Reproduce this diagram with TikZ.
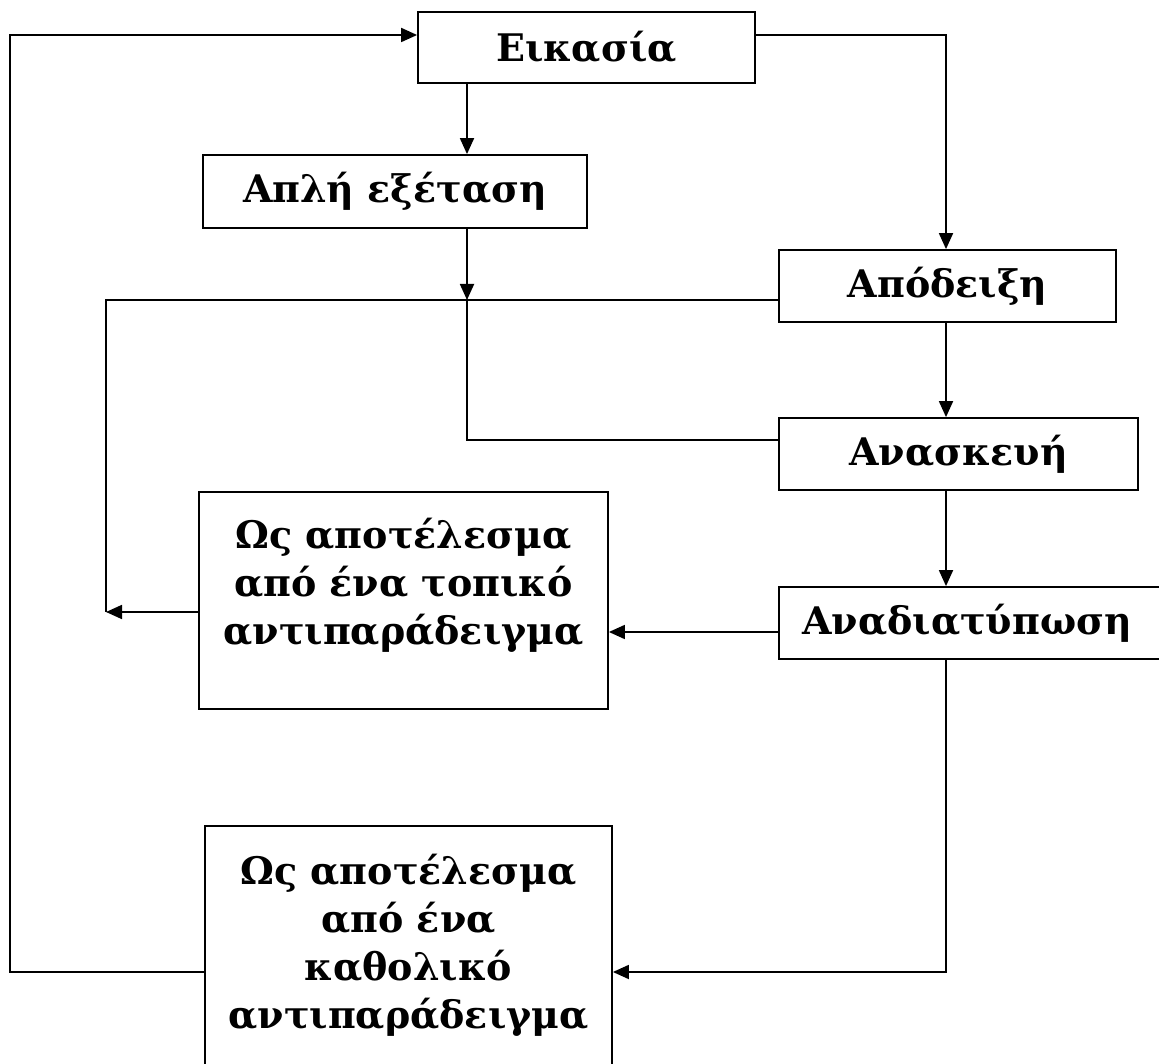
\documentclass[tikz,border=0pt]{standalone}
\usepackage{fontspec}
\setmainfont{DejaVu Serif}
\usetikzlibrary{arrows.meta}
\begin{document}
\begin{tikzpicture}[x=1pt,y=-1pt,
  line width=1.8pt,
  stage/.style={draw, rectangle, inner sep=0pt, font=\bfseries\fontsize{38}{48}\selectfont},
  caption/.style={align=center, inner sep=0pt, font=\bfseries\fontsize{38}{48}\selectfont},
  arr/.style={-{Triangle[length=16pt,width=14pt]}}]
\useasboundingbox (0,0) rectangle (1159,1064);

% boxes of the flow
\node[stage, minimum width=337pt, minimum height=71pt] (eik) at (586.5,47.5) {\raisebox{-3pt}{Εικασία}};
\node[stage, minimum width=384pt, minimum height=73pt] (apl) at (395,191.5) {\raisebox{-3pt}{Απλή εξέταση}};
\node[stage, minimum width=337pt, minimum height=72pt] (apo) at (947.5,286) {\raisebox{-3pt}{Απόδειξη}};
\node[stage, minimum width=359pt, minimum height=72pt] (ana) at (958.5,454) {\raisebox{-3pt}{Ανασκευή}};
\node[stage, minimum width=386pt, minimum height=72pt] (anad) at (972,623) {\hspace*{-10pt}\raisebox{-3pt}{Αναδιατύπωση}};
\node[stage, minimum width=409pt, minimum height=217pt] (top) at (403.5,600.5) {};
\node[caption] (toptext) at (403.5,585) {Ως αποτέλεσμα\\από ένα τοπικό\\αντιπαράδειγμα};
\node[stage, minimum width=407pt, minimum height=250pt] (kat) at (408.5,951) {};
\node[caption] (kattext) at (408.5,945) {Ως αποτέλεσμα\\από ένα\\καθολικό\\αντιπαράδειγμα};

% junctions on the way back up
\coordinate (m) at (467,300);
\coordinate (lt) at (106,612);

% connectors
\draw[arr] (eik.south -| 467,0) -- (apl.north -| 467,0);
\draw[arr] (apl.south -| 467,0) -- (m);
\draw (apo.west |- 0,300) -- (106,300) -- (lt);
\draw (m) -- (467,440) -- (ana.west |- 0,440);
\draw[arr] (eik.east |- 0,35) -| (apo.north -| 946,0);
\draw[arr] (apo.south -| 946,0) -- (ana.north -| 946,0);
\draw[arr] (ana.south -| 946,0) -- (anad.north -| 946,0);
\draw[arr] (anad.west |- 0,632) -- (top.east |- 0,632);
\draw[arr] (top.west |- 0,612) -- (lt);
\draw[arr] (anad.south -| 946,0) |- (kat.east |- 0,972);
\draw[arr] (kat.west |- 0,972) -| (10,35) -- (eik.west |- 0,35);
\end{tikzpicture}
\end{document}
